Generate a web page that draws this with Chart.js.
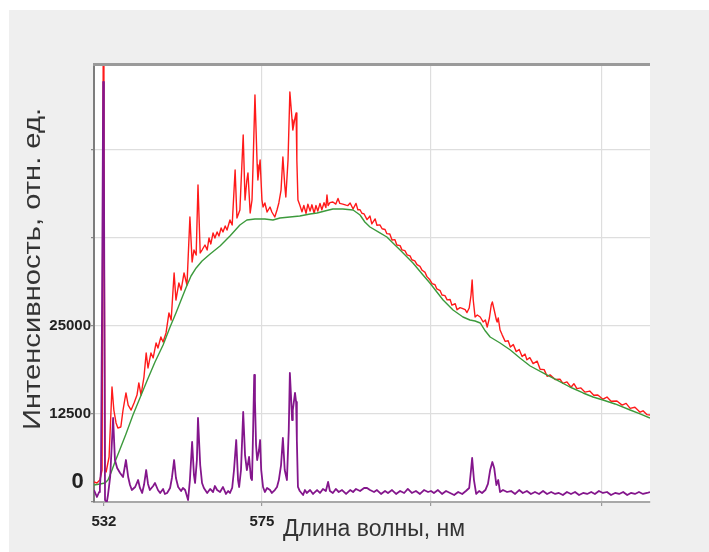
<!DOCTYPE html>
<html>
<head>
<meta charset="utf-8">
<script src="https://cdn.jsdelivr.net/npm/chart.js@4.4.1/dist/chart.umd.min.js"></script>
<style>
  html, body { margin: 0; padding: 0; background: #fff; }
  #wrap { position: relative; width: 709px; height: 552px; }
</style>
</head>
<body>
<div id="wrap"><canvas id="spectrum" width="709" height="552"></canvas></div>
<script>
/* ---------- данные: длина волны (нм) / интенсивность (отн. ед.) ---------- */

// красная кривая — исходный спектр
const rawWl = [
  529.3, 530.1, 530.9, 531.5, 531.8, 532.0, 532.3, 532.6, 533.4, 534.2, 534.7, 535.3, 535.8, 536.6, 537.2, 538.0,
  538.6, 539.4, 540.2, 541.0, 541.5, 542.1, 542.9, 543.5, 544.0, 544.8, 545.4, 546.2, 546.7, 547.5, 548.1, 548.9,
  549.7, 550.3, 551.1, 551.6, 552.4, 553.0, 553.8, 554.6, 555.4, 556.0, 556.5, 557.1, 557.6, 558.2, 558.7, 559.5,
  560.1, 560.6, 561.1, 561.7, 562.2, 562.8, 563.3, 563.9, 564.4, 565.0, 565.5, 566.3, 566.9, 567.7, 568.2, 569.0,
  569.9, 570.4, 570.9, 571.2, 571.8, 572.3, 572.6, 573.1, 573.7, 573.9, 574.5, 575.0, 575.3, 575.8, 576.4, 577.2,
  577.7, 578.5, 579.1, 579.6, 580.2, 580.7, 581.2, 581.5, 582.1, 582.6, 583.2, 583.4, 584.0, 584.3, 584.5, 584.8,
  585.3, 585.9, 586.4, 587.0, 587.5, 588.1, 588.6, 589.2, 589.7, 590.2, 590.8, 591.3, 591.9, 592.4, 592.7, 593.0,
  593.5, 594.3, 595.1, 595.7, 596.2, 597.0, 597.9, 598.4, 599.0, 599.8, 600.6, 601.1, 601.7, 602.2, 602.8, 603.6,
  604.4, 604.9, 605.8, 606.3, 607.1, 607.7, 608.5, 609.0, 609.8, 610.4, 611.2, 611.7, 612.6, 613.1, 613.9, 614.5,
  615.3, 615.8, 616.6, 617.2, 618.0, 618.6, 619.4, 619.9, 620.7, 621.3, 622.1, 622.6, 623.5, 624.0, 624.8, 625.4,
  626.2, 626.7, 627.6, 628.1, 628.9, 629.5, 630.3, 630.8, 631.4, 631.9, 632.2, 632.5, 633.0, 633.6, 634.4, 635.2,
  635.8, 636.3, 636.9, 637.4, 637.7, 638.2, 638.8, 639.0, 639.3, 639.8, 640.4, 641.2, 642.0, 642.6, 643.4, 644.2,
  645.0, 645.8, 646.6, 647.1, 647.9, 648.8, 649.9, 650.7, 651.8, 652.6, 653.4, 654.8, 656.1, 656.9, 658.0, 659.1,
  659.9, 660.7, 661.8, 662.9, 664.2, 665.3, 666.4, 667.8, 668.9, 670.0, 671.6, 673.0, 674.1, 675.2, 676.5, 677.9,
  678.7, 679.8, 680.6
];
const rawCounts = [
  2840, 2700, 3120, 4540, 62050, 49980, 4540, 4260, 6390, 16330, 13060, 11220, 10510, 10650, 13060, 15480,
  13770, 13060, 14060, 15190, 16900, 15190, 17750, 21160, 19030, 21160, 20450, 22580, 21870, 23430, 22720, 24000,
  26840, 25840, 32520, 28680, 31100, 30100, 32520, 30810, 40470, 34080, 35780, 35070, 45010, 35360, 35780, 36490,
  35780, 37490, 36640, 38200, 37490, 38340, 37770, 38910, 38340, 39190, 38620, 40040, 39330, 47140, 40330, 41460,
  52110, 42880, 45720, 46720, 41040, 42880, 48140, 57790, 47850, 45720, 48560, 42880, 41890, 42460, 41180, 41890,
  41180, 40470, 41460, 42460, 44300, 48990, 45010, 43310, 48560, 58220, 54240, 52820, 54530, 55240, 48560, 42880,
  42170, 41200, 42100, 41000, 42300, 41300, 42200, 41000, 42100, 41300, 42400, 41500, 42500, 41800, 43590, 42100,
  42500, 42600, 42300, 43100, 42400, 42300, 42150, 42100, 42450, 41600, 42400, 41500, 41500, 41000, 40900, 40100,
  40600, 39500, 40200, 39300, 39350, 38800, 38700, 38100, 38050, 37200, 37250, 36500, 36400, 35800, 35700, 35100,
  34950, 34400, 34250, 33700, 33450, 32900, 32600, 32000, 31550, 31000, 30850, 30250, 30000, 29400, 29300, 28700,
  28750, 27950, 28150, 27300, 27600, 27500, 27300, 26900, 27550, 29390, 31520, 28680, 26270, 26550, 26270, 25560,
  25840, 24850, 26130, 27970, 28400, 27260, 25840, 25560, 26130, 24420, 23700, 22800, 22900, 22000, 22350, 21350,
  21650, 20650, 21000, 20200, 20500, 19650, 20000, 18850, 18800, 17850, 18050, 17400, 17450, 16850, 17050, 16300,
  16800, 16100, 16200, 15600, 15750, 15150, 15200, 14600, 14900, 14300, 14350, 13750, 14000, 13300, 13450, 12750,
  12950, 12400, 12350
];

// зелёная кривая — фон (люминесценция)
const baseWl = [
  529.3, 530.9, 532.3, 533.1, 533.9, 535.0, 536.4, 538.0, 539.9, 541.8, 543.7, 545.9, 548.1, 550.0, 551.6, 553.0,
  554.3, 555.7, 557.1, 558.7, 560.9, 563.6, 566.3, 569.0, 570.9, 573.1, 575.8, 578.0, 579.9, 582.6, 585.3, 588.1,
  590.0, 592.1, 594.3, 597.0, 599.8, 601.7, 603.0, 604.4, 607.1, 609.0, 611.2, 612.6, 616.1, 618.6, 620.7, 622.6,
  624.3, 627.0, 629.7, 631.6, 633.0, 634.4, 635.8, 637.1, 639.8, 642.6, 645.2, 648.0, 652.0, 655.3, 658.8, 662.4,
  665.1, 667.8, 671.1, 675.2, 677.9, 680.6
];
const baseCounts = [
  2410, 2560, 2700, 3120, 4120, 5680, 7530, 9660, 12350, 14770, 17180, 19880, 22290, 24850, 26840, 28680,
  30390, 32090, 33230, 34220, 35220, 36350, 37770, 39330, 40040, 40190, 40190, 40040, 40330, 40470, 40610, 40900,
  41040, 41320, 41610, 41610, 41460, 40750, 39760, 39050, 38200, 37630, 36490, 35780, 33940, 32380, 31100, 29820,
  28680, 27260, 26270, 25840, 25700, 25420, 24280, 23430, 22580, 21580, 20450, 19310, 18180, 17320, 16330, 15480,
  14910, 14480, 13920, 13060, 12500, 11930
];

// фиолетовая кривая — спектр за вычетом фона
const sigWl = [
  529.3, 530.1, 530.7, 530.9, 531.2, 531.5, 531.8, 532.0, 532.3, 532.8, 533.1, 533.7, 534.5, 535.0, 535.6, 536.4,
  537.2, 538.0, 538.6, 539.1, 539.6, 540.5, 541.3, 541.8, 542.4, 542.9, 543.5, 544.0, 544.5, 545.4, 545.9, 546.7,
  547.3, 548.1, 548.6, 549.2, 550.0, 550.5, 551.1, 551.6, 552.2, 553.0, 553.5, 554.1, 554.9, 555.4, 556.0, 556.5,
  556.8, 557.3, 557.6, 558.2, 558.7, 559.2, 560.1, 560.9, 561.7, 562.2, 562.8, 563.6, 564.4, 565.2, 565.8, 566.3,
  566.9, 567.4, 568.0, 568.5, 568.8, 569.3, 569.9, 570.4, 570.9, 571.5, 572.0, 572.3, 572.6, 572.9, 573.1, 573.4,
  573.7, 574.2, 574.5, 574.8, 575.3, 575.8, 576.4, 577.2, 577.7, 578.5, 579.1, 579.6, 580.2, 580.7, 581.2, 581.8,
  582.3, 582.6, 582.9, 583.2, 583.4, 584.0, 584.3, 584.5, 584.8, 585.3, 586.2, 586.7, 587.2, 588.1, 588.9, 590.0,
  590.8, 591.6, 592.4, 593.0, 593.5, 594.3, 595.1, 595.9, 596.8, 597.9, 599.0, 599.8, 600.6, 601.7, 602.8, 603.6,
  604.4, 605.5, 606.3, 607.4, 608.5, 609.3, 610.4, 611.5, 612.6, 613.7, 614.7, 615.8, 616.9, 618.0, 619.1, 620.2,
  621.0, 621.8, 622.9, 624.0, 625.1, 626.2, 627.3, 628.4, 629.5, 630.5, 631.4, 631.9, 632.2, 632.7, 633.3, 634.1,
  634.9, 635.8, 636.5, 637.1, 637.7, 638.2, 638.8, 639.3, 639.8, 640.6, 641.7, 642.8, 643.9, 645.0, 646.0, 647.1,
  648.2, 649.3, 650.4, 651.5, 652.6, 653.7, 654.8, 655.8, 656.9, 658.0, 659.1, 660.2, 661.3, 662.4, 663.5, 664.6,
  665.6, 666.7, 667.8, 668.9, 670.0, 671.1, 672.2, 673.3, 674.4, 675.4, 676.5, 677.6, 678.7, 679.8, 680.6
];
const sigCounts = [
  1700, 710, 1420, 2130, 4540, 28680, 59640, 48560, 280, 0, 990, 3550, 11930, 5960, 4830, 4120,
  3550, 5960, 3550, 2410, 1700, 2130, 3120, 1990, 1280, 2410, 4540, 2560, 1700, 2270, 2700, 1700,
  1280, 1850, 1140, 1280, 1990, 3410, 5960, 3410, 2130, 1560, 1990, 1700, 280, 3120, 8520, 3830,
  2700, 5960, 11930, 5250, 2700, 1990, 1280, 1850, 1420, 2270, 1700, 1420, 2130, 1140, 1560, 1280,
  1990, 4540, 8800, 3120, 2130, 4540, 12780, 6670, 4540, 6390, 3410, 3120, 10220, 18030, 14480, 8090,
  5960, 7380, 8800, 4540, 2130, 1420, 1990, 1700, 1280, 1700, 2130, 3120, 5250, 9090, 4540, 3120,
  10220, 18320, 15190, 11640, 13060, 15480, 14200, 8800, 2130, 1560, 990, 1700, 1280, 1700, 1140, 1700,
  1280, 1850, 1560, 2840, 1560, 1280, 1850, 1420, 1700, 1140, 1700, 1420, 1850, 1560, 1990, 1990,
  1700, 1420, 1700, 1140, 1560, 1280, 1700, 1140, 1560, 1280, 1850, 1280, 1560, 1140, 1700, 1420,
  1560, 1280, 1700, 1140, 1560, 1280, 990, 1420, 1140, 1560, 1990, 4540, 6250, 3120, 1140, 1560,
  1280, 1700, 2560, 4540, 5680, 4830, 2410, 3120, 1420, 1700, 1420, 1560, 1140, 1700, 1280, 1560,
  1140, 1420, 1140, 1560, 1140, 1420, 1140, 1280, 990, 1420, 1140, 1420, 990, 1280, 1140, 1420,
  1140, 1560, 1280, 1420, 990, 1280, 1140, 1420, 990, 1280, 1140, 1420, 1140, 1280, 1420
];

// подписи осей
const xTicks = [532, 575, 621, 667.3];
const xTickLabels = ['532', '575', '', ''];
const yTicks = [0, 12500, 25000, 37500, 50000];
const yTickLabels = ['', '12500', '25000', '', ''];
const X_MIN = 529.3, X_MAX = 680.6;
const Y_MIN = 0, Y_MAX = 62050;

/* ---------- вспомогательное ---------- */
const toPoints = (xs, ys) => xs.map((x, i) => ({ x, y: ys[i] }));
const FONT = '"Liberation Sans", Arial, sans-serif';

const frame = {
  id: 'frame',
  beforeDraw(chart) {
    const { ctx, chartArea: a } = chart;
    ctx.save();
    ctx.fillStyle = '#ffffff';
    ctx.fillRect(0, 0, chart.width, chart.height);
    ctx.fillStyle = '#efefef';
    ctx.fillRect(9, 10, chart.width - 9, chart.height - 10);
    ctx.fillStyle = '#ffffff';
    ctx.fillRect(a.left, a.top, a.right - a.left, a.bottom - a.top);
    ctx.restore();
  },
  afterDraw(chart) {
    const { ctx, chartArea: a } = chart;
    ctx.save();
    // верхняя рамка
    ctx.strokeStyle = '#9a9a9a';
    ctx.lineWidth = 3;
    ctx.beginPath();
    ctx.moveTo(a.left - 1, a.top - 0.5);
    ctx.lineTo(a.right, a.top - 0.5);
    ctx.stroke();
    // подписи осей
    ctx.fillStyle = '#333333';
    ctx.font = `23px ${FONT}`;
    ctx.textAlign = 'center';
    ctx.textBaseline = 'middle';
    ctx.fillText('Длина волны, нм', (a.left + a.right) / 2 + 2, 530);
    // вертикальная подпись растянута до ширины оригинала (~322 px)
    const yTitle = 'Интенсивность, отн. ед.';
    ctx.font = `24px ${FONT}`;
    const stretch = 322 / ctx.measureText(yTitle).width;
    ctx.translate(33, 269);
    ctx.rotate(-Math.PI / 2);
    ctx.scale(stretch, 1);
    ctx.fillText(yTitle, 0, 0);
    ctx.restore();
    // ноль по оси Y
    ctx.save();
    ctx.fillStyle = '#222222';
    ctx.font = `bold 22px ${FONT}`;
    ctx.textAlign = 'center';
    ctx.textBaseline = 'middle';
    ctx.fillText('0', 77.5, 482);
    ctx.restore();
  }
};

new Chart(document.getElementById('spectrum'), {
  type: 'line',
  data: {
    datasets: [
      {
        label: 'разность',
        data: toPoints(sigWl, sigCounts),
        borderColor: '#84168c',
        borderWidth: 1.8,
        order: 0,
      },
      {
        label: 'фон',
        data: toPoints(baseWl, baseCounts),
        borderColor: '#3c9a3c',
        borderWidth: 1.4,
        order: 1,
      },
      {
        label: 'спектр',
        data: toPoints(rawWl, rawCounts),
        borderColor: '#ff1a1a',
        borderWidth: 1.4,
        order: 2,
      }
    ]
  },
  options: {
    responsive: false,
    animation: false,
    events: [],
    layout: { padding: { left: 0, top: 65, right: 59, bottom: 0 } },
    elements: {
      point: { radius: 0 },
      line: { tension: 0, fill: false, borderJoinStyle: 'round' }
    },
    plugins: {
      legend: { display: false },
      tooltip: { enabled: false },
    },
    scales: {
      x: {
        type: 'linear',
        min: X_MIN,
        max: X_MAX,
        afterBuildTicks: s => { s.ticks = xTicks.map(v => ({ value: v })); },
        afterFit: s => { s.height = 50; },
        ticks: {
          autoSkip: false,
          maxRotation: 0,
          padding: 7,
          color: '#222222',
          font: { family: FONT, size: 15, weight: 'bold' },
          callback: (v, i) => xTickLabels[i],
        },
        grid: {
          color: c => (c.tick && c.tick.value === 532) ? 'rgba(0,0,0,0)' : '#dedede',
          tickColor: '#9a9a9a',
          tickLength: 4,
          lineWidth: 1.2,
        },
        border: { color: '#a8a8a8', width: 2 },
      },
      y: {
        min: Y_MIN,
        max: Y_MAX,
        afterBuildTicks: s => { s.ticks = yTicks.map(v => ({ value: v })); },
        afterFit: s => { s.width = 94; },
        ticks: {
          autoSkip: false,
          padding: 0,
          color: '#222222',
          font: { family: FONT, size: 15, weight: 'bold' },
          callback: (v, i) => yTickLabels[i],
        },
        grid: {
          color: c => (c.tick && c.tick.value === 0) ? 'rgba(0,0,0,0)' : '#dedede',
          tickColor: '#8a8a8a',
          tickLength: 3,
          lineWidth: 1.2,
        },
        border: { color: '#7d7d7d', width: 2 },
      }
    }
  },
  plugins: [frame]
});
</script>
</body>
</html>
